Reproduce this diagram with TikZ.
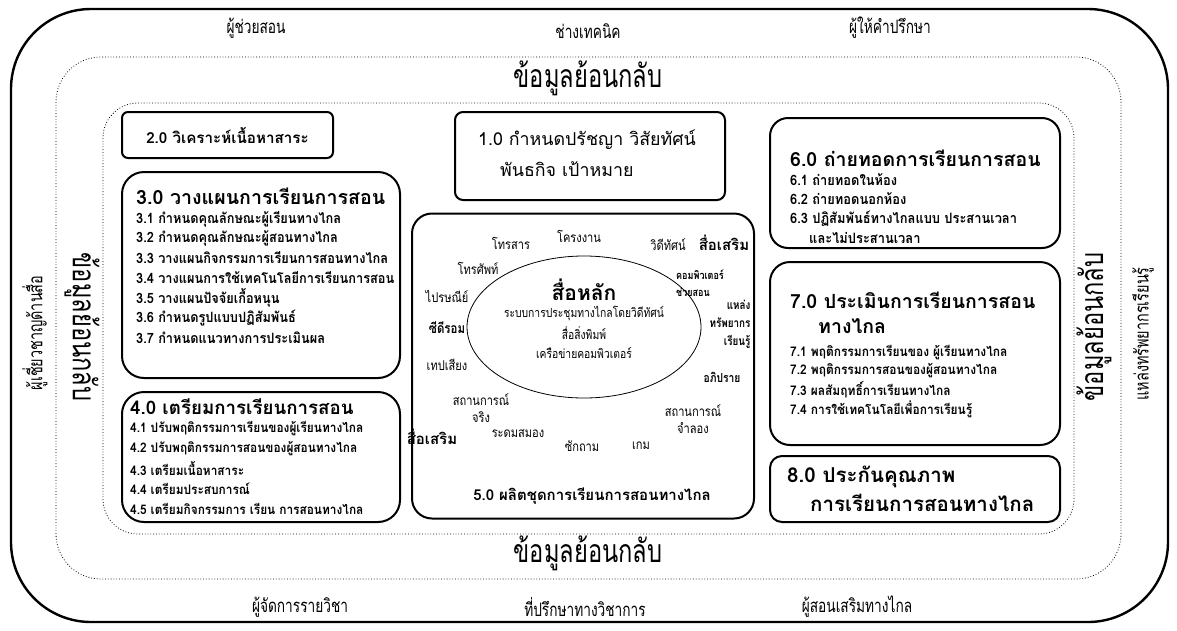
\documentclass[tikz,border=0pt]{standalone}
\usepackage{fontspec}
\setmainfont[Script=Thai]{Loma}
\newfontfamily\condf[Script=Thai,FakeStretch=0.74]{Loma}
\newfontfamily\semif[Script=Thai,FakeStretch=0.82]{Loma}
\newfontfamily\itmf[Script=Thai,FakeStretch=0.9]{Loma}
\usetikzlibrary{shapes.geometric}
\begin{document}
\begin{tikzpicture}[x=1pt,y=-1pt,
  frame/.style={draw, line width=2.4pt},
  dotframe/.style={draw, line width=0.8pt, dotted},
  box/.style={draw, line width=2pt, inner sep=0pt, outer sep=0pt},
  lab/.style={font=\condf\fontsize{18.5}{20}\selectfont, inner sep=0pt},
  fb/.style={font=\condf\fontsize{32}{34}\selectfont, inner sep=0pt},
  ttl/.style={font=\bfseries\fontsize{17.6}{20}\selectfont, anchor=west, inner sep=0pt},
  itm/.style={font=\itmf\bfseries\fontsize{13.3}{16}\selectfont, anchor=west, inner sep=0pt},
  itmthree/.style={itm, font=\itmf\bfseries\fontsize{14.2}{16}\selectfont},
  itmfour/.style={itm, font=\itmf\bfseries\fontsize{13.2}{16}\selectfont},
  itmsix/.style={itm, font=\itmf\bfseries\fontsize{14.3}{16}\selectfont},
  md/.style={font=\semif\fontsize{13.5}{16}\selectfont, inner sep=0pt, align=center},
  mdb/.style={font=\bfseries\fontsize{15}{17}\selectfont, inner sep=0pt},
]
\useasboundingbox (0,0) rectangle (1177,630);
\fill[white] (0,0) rectangle (1177,630);

% frames
\draw[frame, rounded corners=80pt] (11,9) rectangle (1168,622);
\draw[dotframe, rounded corners=45pt] (56,57) rectangle (1121,579);
\draw[dotframe, rounded corners=35pt] (103,103) rectangle (1074,534);

% outer labels
\node[lab] (l1) at (256,28) {ผู้ช่วยสอน};
\node[lab] (l2) at (588,31) {ช่างเทคนิค};
\node[lab] (l3) at (890,28) {ผู้ให้คำปรึกษา};
\node[lab] (l4) at (300,607) {ผู้จัดการรายวิชา};
\node[lab] (l5) at (585,607) {ที่ปรึกษาทางวิชาการ};
\node[lab] (l6) at (857,607) {ผู้สอนเสริมทางไกล};
\node[lab, font=\condf\fontsize{19.5}{20}\selectfont, rotate=90] (l7) at (35,333) {ผู้เชี่ยวชาญด้านสื่อ};
\node[lab, font=\condf\fontsize{19.5}{20}\selectfont, rotate=90] (l8) at (1143,334) {แหล่งทรัพยากรเรียนรู้};

% feedback
\node[fb] (f1) at (588,78) {ข้อมูลย้อนกลับ};
\node[fb] (f2) at (588,553) {ข้อมูลย้อนกลับ};
\node[fb, rotate=-90] (f3) at (82,327) {ข้อมูลย้อนกลับ};
\node[fb, rotate=90] (f4) at (1094,327) {ข้อมูลย้อนกลับ};

% box 2.0
\node[box, rounded corners=6pt, minimum width=211pt, minimum height=46pt] (b2) at (227.5,135) {};
\node[ttl, anchor=center, font=\bfseries\fontsize{15.2}{18}\selectfont] (t2) at (b2.center) {2.0 วิเคราะห์เนื้อหาสาระ};

% box 1.0
\node[box, rounded corners=8pt, minimum width=270pt, minimum height=88pt] (b1) at (590,156) {};
\node[ttl, font=\fontsize{17.8}{20}\selectfont] (t1a) at (478,140) {1.0 กำหนดปรัชญา วิสัยทัศน์};
\node[ttl, font=\fontsize{17.8}{20}\selectfont] (t1b) at (500,169) {พันธกิจ เป้าหมาย};

% box 3.0
\node[box, rounded corners=22pt, minimum width=278pt, minimum height=206pt] (b3) at (261,275) {};
\node[ttl, font=\bfseries\fontsize{19.6}{22}\selectfont] (t3) at (136,196) {3.0 วางแผนการเรียนการสอน};
\node[itmthree] (i31) at (136,219) {3.1 กำหนดคุณลักษณะผู้เรียนทางไกล};
\node[itmthree] (i32) at (136,238) {3.2 กำหนดคุณลักษณะผู้สอนทางไกล};
\node[itmthree] (i33) at (136,258) {3.3 วางแผนกิจกรรมการเรียนการสอนทางไกล};
\node[itmthree] (i34) at (136,278) {3.4 วางแผนการใช้เทคโนโลยีการเรียนการสอน};
\node[itmthree] (i35) at (136,298) {3.5 วางแผนปัจจัยเกื้อหนุน};
\node[itmthree] (i36) at (136,318) {3.6 กำหนดรูปแบบปฏิสัมพันธ์};
\node[itmthree] (i37) at (136,338) {3.7 กำหนดแนวทางการประเมินผล};

% box 4.0
\node[box, rounded corners=22pt, minimum width=278pt, minimum height=130pt] (b4) at (261,457) {};
\node[ttl, font=\bfseries\fontsize{18.7}{20}\selectfont] (t4) at (130,407) {4.0 เตรียมการเรียนการสอน};
\node[itmfour] (i41) at (130,429) {4.1 ปรับพฤติกรรมการเรียนของผู้เรียนทางไกล};
\node[itmfour] (i42) at (130,449) {4.2 ปรับพฤติกรรมการสอนของผู้สอนทางไกล};
\node[itmfour] (i43) at (130,469) {4.3 เตรียมเนื้อหาสาระ};
\node[itmfour] (i44) at (130,489) {4.4 เตรียมประสบการณ์};
\node[itmfour] (i45) at (130,509) {4.5 เตรียมกิจกรรมการ เรียน การสอนทางไกล};

% box 5.0
\node[box, rounded corners=20pt, minimum width=342pt, minimum height=305pt] (b5) at (583,366) {};
\node[draw, line width=0.8pt, ellipse, minimum width=234pt, minimum height=142pt, inner sep=0pt] (core) at (584,327) {};
\node[mdb, font=\bfseries\fontsize{21}{22}\selectfont] (c0) at (584,290) {สื่อหลัก};
\node[md, font=\semif\fontsize{12.6}{15}\selectfont] (c1) at (584,313) {ระบบการประชุมทางไกลโดยวิดีทัศน์};
\node[md, font=\semif\fontsize{12.6}{15}\selectfont] (c2) at (584,333) {สื่อสิ่งพิมพ์};
\node[md, font=\semif\fontsize{12.6}{15}\selectfont] (c3) at (584,353) {เครือข่ายคอมพิวเตอร์};
\node[md] (m1) at (511,243) {โทรสาร};
\node[md] (m2) at (579,236) {โครงงาน};
\node[md] (m3) at (668,245) {วิดีทัศน์};
\node[mdb] (m4) at (724,243) {สื่อเสริม};
\node[md, font=\semif\bfseries\fontsize{11}{17}\selectfont, align=left] (m6) at (700,283) {คอมพิวเตอร์\\ช่วยสอน};
\node[md] (m5) at (478,268) {โทรศัพท์};
\node[md] (m7) at (447,296) {ไปรษณีย์};
\node[md, font=\semif\bfseries\fontsize{12}{18}\selectfont, align=right] (m8) at (730,324) {แหล่ง\\ทรัพยากร\\เรียนรู้};
\node[mdb, font=\semif\bfseries\fontsize{14}{16}\selectfont] (m9) at (447,328) {ซีดีรอม};
\node[md] (m10) at (447,365) {เทปเสียง};
\node[md, font=\semif\bfseries\fontsize{12.5}{15}\selectfont] (m11) at (722,377) {อภิปราย};
\node[md, font=\semif\fontsize{13.5}{17}\selectfont] (m12) at (481,408) {สถานการณ์\\จริง};
\node[md, font=\semif\fontsize{13.5}{17}\selectfont] (m13) at (693,419) {สถานการณ์\\จำลอง};
\node[mdb] (m14) at (432,437) {สื่อเสริม};
\node[md] (m15) at (518,434) {ระดมสมอง};
\node[md] (m16) at (582,446) {ซักถาม};
\node[md] (m17) at (641,446) {เกม};
\node[ttl, anchor=center, font=\bfseries\fontsize{15}{18}\selectfont] (t5) at (592,496) {5.0 ผลิตชุดการเรียนการสอนทางไกล};

% box 6.0
\node[box, rounded corners=18pt, minimum width=290pt, minimum height=130pt] (b6) at (915,183) {};
\node[ttl, font=\bfseries\fontsize{19.5}{20}\selectfont] (t6) at (790,158) {6.0 ถ่ายทอดการเรียนการสอน};
\node[itmsix] (i61) at (790,180) {6.1 ถ่ายทอดในห้อง};
\node[itmsix] (i62) at (790,199) {6.2 ถ่ายทอดนอกห้อง};
\node[itmsix] (i63) at (790,219) {6.3 ปฏิสัมพันธ์ทางไกลแบบ ประสานเวลา};
\node[itmsix] (i64) at (809,238) {และไม่ประสานเวลา};

% box 7.0
\node[box, rounded corners=20pt, minimum width=290pt, minimum height=183pt] (b7) at (915,353.5) {};
\node[ttl, font=\bfseries\fontsize{19.5}{20}\selectfont] (t7a) at (790,300) {7.0 ประเมินการเรียนการสอน};
\node[ttl, font=\bfseries\fontsize{19.5}{20}\selectfont] (t7b) at (818,326) {ทางไกล};
\node[itm] (i71) at (790,352) {7.1 พฤติกรรมการเรียนของ ผู้เรียนทางไกล};
\node[itm] (i72) at (790,371) {7.2 พฤติกรรมการสอนของผู้สอนทางไกล};
\node[itm] (i73) at (790,390) {7.3 ผลสัมฤทธิ์การเรียนทางไกล};
\node[itm] (i74) at (790,409) {7.4 การใช้เทคโนโลยีเพื่อการเรียนรู้};

% box 8.0
\node[box, rounded corners=12pt, minimum width=290pt, minimum height=66pt] (b8) at (915,489) {};
\node[ttl, font=\bfseries\fontsize{20.5}{22}\selectfont] (t8a) at (787,477) {8.0 ประกันคุณภาพ};
\node[ttl, font=\bfseries\fontsize{20.5}{22}\selectfont] (t8b) at (810,503) {การเรียนการสอนทางไกล};
\end{tikzpicture}
\end{document}
